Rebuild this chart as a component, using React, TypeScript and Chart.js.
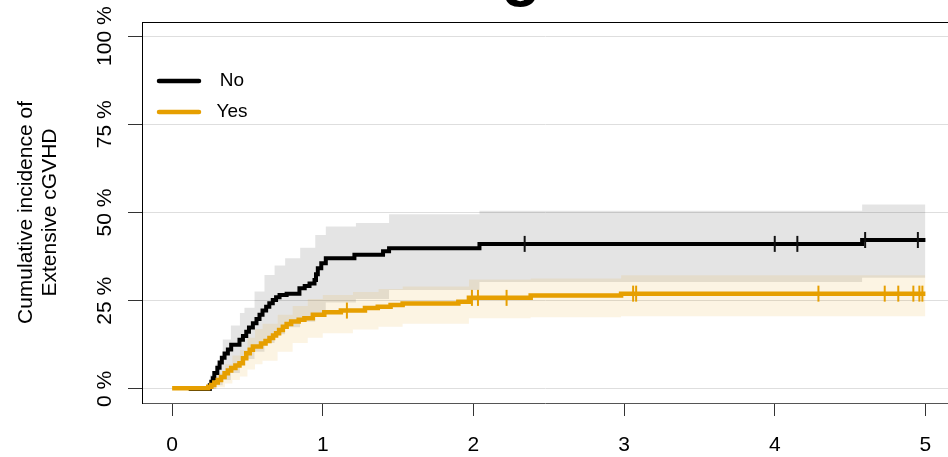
import React, { useEffect, useRef } from 'react';
import { Chart, registerables } from 'chart.js';

Chart.register(...registerables);

const FONT = "'Liberation Sans', Arial, Helvetica, sans-serif";

const xTicks = [0, 1, 2, 3, 4, 5];
const yTicks = [0, 25, 50, 75, 100];
const yTitleLines = ['Cumulative incidence of', 'Extensive cGVHD'];
const legendLabels = ['No', 'Yes'];
const titleFragment = 'g';

// "No" group: cumulative incidence (%) step function
const noTimes = [0.11, 0.25, 0.26, 0.27, 0.28, 0.30, 0.315, 0.33, 0.348, 0.37, 0.392, 0.447, 0.47, 0.492, 0.51, 0.536, 0.56, 0.58, 0.60, 0.624, 0.645, 0.668, 0.69, 0.713, 0.76, 0.845, 0.88, 0.912, 0.945, 0.955, 0.967, 0.99, 1.02, 1.21, 1.40, 1.44, 2.04, 4.58, 5.0];
const noValues = [0, 1.0, 2.0, 3.0, 4.5, 6.0, 7.5, 8.8, 10.0, 11.2, 12.5, 13.9, 15.0, 16.2, 17.4, 18.6, 19.8, 21.0, 22.2, 23.3, 24.3, 25.2, 26.0, 26.6, 27.0, 28.5, 29.2, 29.9, 30.9, 32.5, 34.2, 35.6, 37.0, 38.0, 39.0, 39.9, 41.1, 42.2, 42.2];
const noCensor = [2.34, 4.0, 4.15, 4.6, 4.95];

const noBandTimes = [0.25, 0.29, 0.336, 0.39, 0.45, 0.48, 0.547, 0.613, 0.68, 0.75, 0.85, 0.95, 1.02, 1.22, 1.44, 2.04, 4.58, 5.0];
const noUpper = [4, 7, 14, 18, 21.5, 23, 27.6, 32.3, 35, 37, 40, 43.6, 46, 47, 49.5, 50.5, 52.3, 52.3];
const noLower = [0, 1, 2.5, 4.5, 7, 8.5, 10.5, 13, 15.5, 17.5, 19, 21.5, 24.5, 25.5, 28, 30.3, 31.5, 31.5];

// "Yes" group
const yesTimes = [0, 0.24, 0.26, 0.28, 0.303, 0.325, 0.348, 0.37, 0.392, 0.42, 0.447, 0.47, 0.492, 0.515, 0.536, 0.59, 0.62, 0.646, 0.67, 0.69, 0.71, 0.735, 0.76, 0.79, 0.84, 0.878, 0.934, 1.01, 1.12, 1.28, 1.365, 1.45, 1.53, 1.90, 1.97, 2.38, 2.98, 5.0];
const yesValues = [0.2, 0.6, 1.1, 1.8, 2.5, 3.4, 4.4, 5.2, 5.9, 6.6, 7.3, 8.7, 10.1, 11.1, 12.0, 12.9, 13.6, 14.4, 15.1, 15.8, 16.7, 17.6, 18.4, 19.1, 19.6, 20.0, 21.0, 21.7, 22.2, 22.9, 23.3, 23.8, 24.2, 24.7, 25.8, 26.5, 27.0, 27.0];
const yesCensor = [1.16, 1.99, 2.03, 2.22, 3.06, 3.08, 4.29, 4.73, 4.82, 4.92, 4.96, 4.98];

const yesBandTimes = [0, 0.24, 0.3, 0.35, 0.4, 0.45, 0.5, 0.55, 0.6, 0.7, 0.8, 0.9, 1.0, 1.2, 1.37, 1.53, 1.97, 2.38, 2.98, 5.0];
const yesUpper = [0.5, 2, 4.5, 7, 9.5, 11, 14.5, 17, 18.5, 21, 23.5, 25.5, 26.6, 27.5, 28.3, 29, 31, 31.3, 32.2, 32.2];
const yesLower = [0, 0, 0.5, 1.5, 2.5, 3.5, 5.5, 7, 8, 10.5, 13, 14.5, 15.8, 16.8, 17.6, 18.5, 20, 20.3, 20.6, 20.6];

const NO_COLOR = '#000000';
const YES_COLOR = '#E69F00';

function pts(times: number[], values: number[]) {
  return times.map((t, i) => ({ x: t, y: values[i] }));
}

function stepAt(times: number[], values: number[], t: number) {
  let v = values[0];
  for (let i = 0; i < times.length; i++) {
    if (times[i] <= t) v = values[i];
  }
  return v;
}

export default function App() {
  const ref = useRef<HTMLCanvasElement>(null);

  useEffect(() => {
    if (!ref.current) return;

    const boxPlugin = {
      id: 'boxTop',
      afterDraw(chart: any) {
        const { ctx, chartArea } = chart;
        ctx.save();
        ctx.strokeStyle = '#000';
        ctx.lineWidth = 1;
        ctx.beginPath();
        ctx.moveTo(chartArea.left, Math.round(chartArea.top) + 0.5);
        ctx.lineTo(chartArea.right, Math.round(chartArea.top) + 0.5);
        ctx.stroke();
        // fragment of the (cropped) title above the plot
        ctx.fillStyle = '#000';
        ctx.font = `bold 64px ${FONT}`;
        ctx.textAlign = 'center';
        ctx.textBaseline = 'alphabetic';
        ctx.fillText(titleFragment, 521, -6);
        ctx.restore();
      },
    };

    const legendPlugin = {
      id: 'insideLegend',
      afterDatasetsDraw(chart: any) {
        const { ctx, chartArea } = chart;
        const items = [
          { label: legendLabels[0], color: NO_COLOR, width: 4.5 },
          { label: legendLabels[1], color: YES_COLOR, width: 4.5 },
        ];
        ctx.save();
        items.forEach((it, i) => {
          const y = chartArea.top + 59 + i * 31;
          ctx.strokeStyle = it.color;
          ctx.lineWidth = it.width;
          ctx.lineCap = 'round';
          ctx.beginPath();
          ctx.moveTo(chartArea.left + 17, y);
          ctx.lineTo(chartArea.left + 57, y);
          ctx.stroke();
          ctx.fillStyle = '#000';
          ctx.font = `19px ${FONT}`;
          ctx.textAlign = 'center';
          ctx.textBaseline = 'middle';
          ctx.fillText(it.label, chartArea.left + 90, y);
        });
        ctx.restore();
      },
    };

    const chart = new Chart(ref.current, {
      type: 'line',
      data: {
        datasets: [
          {
            label: 'No upper',
            data: pts(noBandTimes, noUpper),
            stepped: true,
            borderWidth: 0,
            pointRadius: 0,
            backgroundColor: 'rgba(0,0,0,0.105)',
            fill: { target: 1 },
            order: 13,
          },
          {
            label: 'No lower',
            data: pts(noBandTimes, noLower),
            stepped: true,
            borderWidth: 0,
            pointRadius: 0,
            fill: false,
            order: 12,
          },
          {
            label: 'Yes upper',
            data: pts(yesBandTimes, yesUpper),
            stepped: true,
            borderWidth: 0,
            pointRadius: 0,
            backgroundColor: 'rgba(230,159,0,0.11)',
            fill: { target: 3 },
            order: 11,
          },
          {
            label: 'Yes lower',
            data: pts(yesBandTimes, yesLower),
            stepped: true,
            borderWidth: 0,
            pointRadius: 0,
            fill: false,
            order: 10,
          },
          {
            label: legendLabels[0],
            data: pts(noTimes, noValues),
            stepped: true,
            borderColor: NO_COLOR,
            borderWidth: 4,
            pointRadius: 0,
            fill: false,
            order: 3,
          },
          {
            label: legendLabels[1],
            data: pts(yesTimes, yesValues),
            stepped: true,
            borderColor: YES_COLOR,
            borderWidth: 4.5,
            pointRadius: 0,
            fill: false,
            order: 2,
          },
          {
            label: 'No censored',
            data: noCensor.map((t) => ({ x: t, y: stepAt(noTimes, noValues, t) })),
            showLine: false,
            pointStyle: 'line',
            rotation: 90,
            pointRadius: 8,
            borderColor: '#111',
            borderWidth: 2,
            order: 1,
          },
          {
            label: 'Yes censored',
            data: yesCensor.map((t) => ({ x: t, y: stepAt(yesTimes, yesValues, t) })),
            showLine: false,
            pointStyle: 'line',
            rotation: 90,
            pointRadius: 8,
            borderColor: YES_COLOR,
            borderWidth: 2,
            order: 0,
          },
        ] as any,
      },
      options: {
        animation: false,
        responsive: false,
        maintainAspectRatio: false,
        layout: { autoPadding: false, padding: { top: 22, right: 0, left: 0, bottom: 0 } },
        plugins: {
          legend: { display: false },
          tooltip: { enabled: false },
          title: { display: false },
        },
        scales: {
          x: {
            type: 'linear',
            min: -0.2,
            max: 5.15,
            afterBuildTicks: (s: any) => {
              s.ticks = xTicks.map((v) => ({ value: v }));
            },
            afterFit: (s: any) => {
              s.height = 54;
              s.paddingLeft = 0;
              s.paddingRight = 0;
            },
            grid: {
              drawOnChartArea: false,
              drawTicks: true,
              tickLength: 13,
              tickColor: '#333',
              tickWidth: 1,
            },
            border: { display: true, color: '#555', width: 1 },
            ticks: {
              padding: 17,
              autoSkip: false,
              maxRotation: 0,
              minRotation: 0,
              color: '#000',
              font: { family: FONT, size: 21 },
              callback: (v: any) => String(v),
            },
          },
          y: {
            type: 'linear',
            min: -4,
            max: 104,
            afterBuildTicks: (s: any) => {
              s.ticks = yTicks.map((v) => ({ value: v }));
            },
            afterFit: (s: any) => {
              s.width = 142;
              s.paddingTop = 0;
              s.paddingBottom = 0;
            },
            grid: {
              color: '#DEDEDE',
              lineWidth: 1,
              drawTicks: true,
              tickLength: 14,
              tickColor: '#333',
              tickWidth: 1,
            },
            border: { display: true, color: '#000', width: 1 },
            ticks: {
              minRotation: 90,
              maxRotation: 90,
              crossAlign: 'center',
              padding: -7,
              autoSkip: false,
              color: '#000',
              font: { family: FONT, size: 21 },
              callback: (v: any) => `${v} %`,
            },
            title: {
              display: true,
              text: yTitleLines,
              color: '#000',
              font: { family: FONT, size: 21, lineHeight: 1.15 },
              padding: { top: 14, bottom: 0 },
            },
          },
        },
      } as any,
      plugins: [boxPlugin, legendPlugin],
    });

    return () => chart.destroy();
  }, []);

  return (
    <div style={{ position: 'fixed', left: 0, top: 0, width: 948, height: 457, background: '#fff' }}>
      <canvas ref={ref} width={948} height={457} style={{ display: 'block' }} />
    </div>
  );
}
